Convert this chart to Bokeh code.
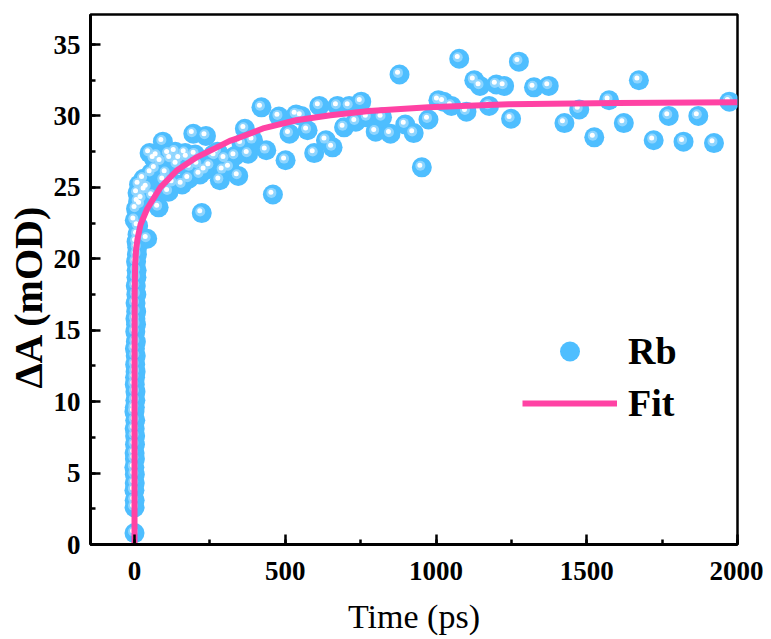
from bokeh.plotting import figure
from bokeh.models import Range1d, SingleIntervalTicker, Legend, LegendItem, ColumnDataSource, Title
from bokeh.embed import file_html
from bokeh.resources import INLINE

# ---------------- data ----------------
# early-time column of points (t ~ 0 ps)
t_early = [0.0, 0.2, 0.5, -0.3, 0.8, 1.0, -0.5, 1.3, 0.3, 1.6, 2.0, 0.6, 2.4, -0.2, 1.1,
           2.8, 3.2, 0.9, 1.8, 3.6, 2.2, 4.0, 1.4, 4.5, 2.6, 5.0, 3.0, 5.5, 3.4, 6.0,
           4.2, 6.5, 7.0, 5.2, 8.0, 9.0, 6.8, 10.0, 12.0, 1.0]
a_early = [0.8, 2.6, 3.1, 3.8, 4.3, 4.9, 5.4, 6.0, 6.4, 7.0, 7.6, 8.1, 8.7, 9.3, 9.6,
           10.1, 10.7, 11.2, 11.7, 12.1, 12.6, 13.2, 13.7, 14.2, 14.9, 15.4, 15.8, 16.3, 16.9, 17.5,
           18.1, 18.7, 19.2, 19.8, 20.3, 20.8, 21.2, 21.7, 22.3, 22.7]

# rise and plateau
t_late = [42, 5, 10, 15, 20, 12, 30, 35, 25, 42, 55, 60, 65, 80, 113, 97, 69, 50, 75, 94,
          88, 105, 113, 120, 128, 135, 141, 150, 158, 168, 175, 180, 185, 195, 201, 210,
          217, 223, 234, 237, 250, 261, 267, 275, 283, 294, 300, 315, 333, 344, 355, 366,
          377, 393, 421, 437, 459, 479, 501, 514, 536, 553, 574, 596, 613, 635, 657, 673,
          695, 712, 734, 752, 772, 800, 821, 849, 879, 898, 926, 953, 975, 1008, 1025, 1051,
          1077, 1101, 1127, 1146, 1176, 1200, 1226, 1249, 1275, 1325, 1374, 1426, 1475, 1525,
          1574, 1623, 1673, 1722, 1772, 1821, 1870, 1922, 1973]
a_late = [21.4, 23.5, 24.6, 25.2, 23.8, 24.0, 25.6, 24.8, 24.2, 25.0, 26.0, 24.4, 27.0, 23.6,
          24.7, 25.5, 26.3, 27.4, 27.2, 28.2, 26.8, 26.0, 27.35, 27.0, 25.3, 27.5, 26.6, 27.0,
          25.2, 27.4, 27.1, 25.6, 26.4, 28.75, 27.3, 26.6, 25.9, 23.2, 26.2, 28.6, 26.5, 27.3,
          27.2, 27.5, 25.5, 26.2, 27.0, 26.4, 27.2, 25.8, 28.05, 29.1, 27.35, 28.3, 30.6, 27.6,
          24.5, 29.96, 26.9, 28.75, 30.1, 30.0, 29.0, 27.4, 30.7, 28.3, 27.8, 30.7, 29.2, 30.7,
          29.6, 31.0, 29.9, 28.9, 29.9, 28.75, 32.9, 29.4, 28.8, 26.4, 29.75, 31.1, 31.0, 30.7,
          34.0, 30.3, 32.5, 32.1, 30.7, 32.2, 32.1, 29.8, 33.8, 32.0, 32.1, 29.5, 30.45, 28.5,
          31.1, 29.5, 32.5, 28.3, 30.0, 28.2, 30.0, 28.1, 31.0]

time_ps = t_early + t_late
delta_a = a_early + a_late

# fitted curve
fit_t = [0, 0, 0.5, 2, 5, 10, 20, 42, 86, 141, 206, 283, 316, 344, 430, 536, 650, 778,
         975, 1240, 1600, 2000]
fit_a = [0, 12, 17.5, 19.6, 20.6, 21.4, 22.4, 23.5, 25.0, 26.2, 27.1, 27.9, 28.25, 28.45,
         29.15, 29.7, 30.05, 30.35, 30.6, 30.82, 30.9, 30.95]

x_ticks_interval = 500
y_ticks_interval = 5
x_lim = (-146, 2000)
y_lim = (0, 37.1)

# ---------------- figure ----------------
W, H = 763, 637
ML, MR, MT, MB = 90, 26, 14, 93
FONT = "Liberation Serif"

p = figure(width=W, height=H, output_backend="svg", toolbar_location=None,
           x_range=Range1d(*x_lim), y_range=Range1d(*y_lim),
           min_border_left=ML, min_border_right=MR, min_border_top=MT, min_border_bottom=MB)
p.grid.visible = False
p.outline_line_color = "black"
p.outline_line_width = 2.5
p.background_fill_color = "white"
p.border_fill_color = "white"

# sphere-like markers: base + highlight layers (offsets in screen px converted to data)
frame_w = W - ML - MR
frame_h = H - MT - MB
ux = (x_lim[1] - x_lim[0]) / frame_w
uy = (y_lim[1] - y_lim[0]) / frame_h

src = ColumnDataSource(dict(t=time_ps, a=delta_a))
src_hl1 = ColumnDataSource(dict(t=[v - 1.5 * ux for v in time_ps], a=[v + 1.6 * uy for v in delta_a]))
src_hl2 = ColumnDataSource(dict(t=[v - 2.0 * ux for v in time_ps], a=[v + 2.2 * uy for v in delta_a]))

base = p.scatter("t", "a", source=src, size=20, marker="circle",
                 fill_color="#4EBEFF", line_color=None)
p.scatter("t", "a", source=src_hl1, size=10, marker="circle",
          fill_color="#9AD9FF", fill_alpha=0.85, line_color=None)
p.scatter("t", "a", source=src_hl2, size=5, marker="circle",
          fill_color="white", line_color=None)

fit = p.line(fit_t, fit_a, line_color="#FF42A4", line_width=6)

# axes
for ax in (p.xaxis[0], p.yaxis[0]):
    ax.axis_line_width = 3
    ax.major_tick_line_width = 2.5
    ax.minor_tick_line_width = 2.5
    ax.major_tick_in = 10
    ax.major_tick_out = 0
    ax.minor_tick_in = 5
    ax.minor_tick_out = 0
    ax.major_label_text_font = FONT
    ax.major_label_text_font_style = "bold"
    ax.major_label_text_font_size = "27px"
    ax.major_label_text_color = "black"
    ax.axis_label_text_font = FONT
    ax.axis_label_text_color = "black"

p.xaxis.ticker = SingleIntervalTicker(interval=x_ticks_interval, num_minor_ticks=2)
p.yaxis.ticker = SingleIntervalTicker(interval=y_ticks_interval, num_minor_ticks=2)
p.xaxis.major_label_standoff = 17
p.yaxis.major_label_standoff = 10

p.xaxis.axis_label = "Time (ps)"
p.xaxis.axis_label_text_font_style = "normal"
p.xaxis.axis_label_text_font_size = "34px"
p.xaxis.axis_label_standoff = 15

# y axis title as a side title (rotated automatically), starting 156 px above the frame bottom
p.add_layout(Title(text="ΔA (mOD)", align="left", offset=156, standoff=0,
                   text_font=FONT, text_font_style="bold", text_font_size="40px",
                   text_color="black"), "left")

legend = Legend(items=[LegendItem(label="Rb", renderers=[base]),
                       LegendItem(label="Fit", renderers=[fit])],
                location=(432, 116), padding=0, margin=0, spacing=2,
                glyph_width=95, glyph_height=50, label_height=50, label_standoff=11,
                label_text_font=FONT, label_text_font_style="bold",
                label_text_font_size="38px", label_text_color="black",
                border_line_alpha=0, background_fill_alpha=0)
p.add_layout(legend)

open("out.html", "w").write(file_html(p, INLINE))
